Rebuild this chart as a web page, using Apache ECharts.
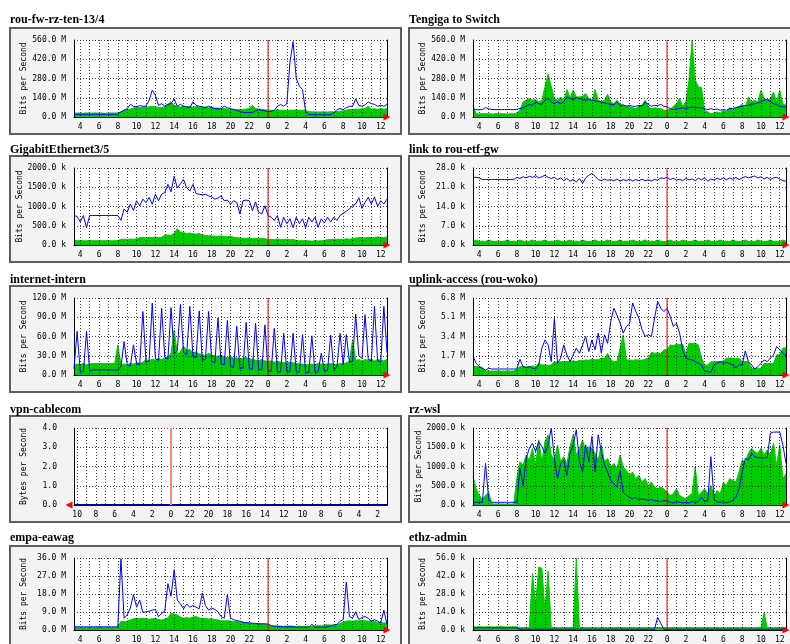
<!DOCTYPE html>
<html><head><meta charset="utf-8">
<script src="https://cdn.jsdelivr.net/npm/echarts@6/dist/echarts.min.js"></script>
<style>html,body{margin:0;padding:0;background:#fff}#c{width:790px;height:644px}</style>
</head><body><div id="c"></div><script>
// ---- sampling: 20-minute samples, 101 per graph ----
const dayStart = [3, 20];      // first sample 03:20 (day 1)
const vpnStart = [1, 0];       // vpn graph first sample 01:00 (day 1), drawn reversed
const stepMinutes = 20;
const sampleCount = 101;

// ---- series values (green = in, blue = out) ----
const fwIn = [30,28,29,27,30,28,29,30,28,29,27,28,30,29,30,
 37,49,54,58,66,70,68,72,70,74,78,73,70,68,75,
 92,110,85,75,72,80,73,78,70,76,72,68,74,66,70,
 64,66,60,62,58,55,54,52,56,54,58,62,85,60,58,
 55,52,49,50,48,52,49,50,47,50,49,52,48,50,47,
 40,37,38,36,37,39,36,38,37,40,42,45,50,55,54,
 58,56,60,62,78,58,60,55,62,57,60];
const fwOut = [20,20,19,19,19,19,19,19,19,19,19,19,19,19,20,
 37,49,61,92,78,73,83,78,78,122,195,158,85,97,78,
 92,97,131,78,92,78,73,68,110,85,78,73,68,78,68,
 61,58,61,78,68,61,54,49,39,34,32,32,34,44,54,
 49,44,39,41,49,78,92,78,97,400,548,280,225,200,40,
 19,17,17,17,17,17,17,17,29,54,61,54,68,78,78,
 131,85,78,88,110,97,92,78,85,78,92];
const tgIn = [85,24,22,25,23,24,22,24,25,23,24,22,24,23,30,
 49,110,122,134,122,127,110,122,219,312,224,134,122,146,122,
 200,141,195,146,146,151,170,134,117,200,122,110,122,166,110,
 97,122,92,85,78,73,68,61,78,85,122,73,61,68,61,
 61,49,49,54,78,97,134,78,110,268,560,268,219,214,49,
 37,24,29,37,29,49,37,68,54,68,78,92,68,146,110,
 122,110,195,134,122,134,182,110,195,97,85];
const tgOut = [54,54,52,54,68,60,54,54,54,54,54,54,54,54,56,
 61,68,78,92,85,110,97,92,122,134,110,97,110,97,110,
 146,134,127,141,134,127,122,127,122,117,112,110,102,97,92,
 88,110,83,88,78,85,78,78,85,78,110,92,78,85,83,
 92,78,73,61,54,61,61,68,61,68,73,68,68,68,61,
 54,61,54,58,49,54,49,61,63,68,73,78,83,85,92,
 97,102,110,122,127,110,97,92,78,73,73];
const geIn = [110,115,108,112,110,115,110,112,108,110,113,110,112,110,115,
 145,150,140,155,148,160,190,196,185,200,196,210,190,200,255,
 260,250,300,425,340,320,298,310,290,280,300,260,250,240,235,
 230,225,235,220,215,230,200,190,180,175,170,185,165,170,160,
 170,160,145,150,140,155,145,140,150,135,145,120,110,115,105,
 110,100,110,105,112,110,145,140,150,145,150,140,160,150,165,
 180,190,196,185,200,190,196,210,200,190,205];
const geOut = [766,740,600,766,451,766,766,766,766,766,766,766,766,766,766,
 640,936,851,1064,900,1149,1020,1191,1100,1234,1060,1319,1150,1319,1362,
 1574,1380,1787,1480,1591,1700,1489,1404,1574,1336,1319,1302,1319,1276,1251,
 1191,1217,1276,1149,1166,1064,1149,1106,808,1149,1166,1149,894,1120,851,
 808,1020,766,723,638,766,460,723,553,681,450,723,553,681,450,
 723,596,723,460,681,570,723,596,723,638,766,825,877,936,1021,
 1064,1230,950,1106,1240,1064,1250,1000,1149,1064,1191];
const ltIn = [1.4,1.8,1.3,1.4,1.3,1.8,1.4,1.3,1.4,1.3,1.4,1.8,1.3,1.4,1.3,
 1.8,1.4,1.3,1.4,1.8,1.3,1.4,1.4,1.8,1.3,1.4,1.3,1.8,1.4,1.3,
 1.4,1.8,1.3,1.4,1.3,1.8,1.4,1.3,1.4,1.8,1.3,1.4,1.3,1.8,1.4,
 1.3,1.4,1.8,1.3,1.4,1.3,1.8,1.4,1.3,1.4,1.8,1.3,1.4,1.3,1.8,
 1.4,1.3,1.4,1.8,1.3,1.4,1.3,1.8,1.4,1.3,1.4,1.8,1.3,1.4,1.3,
 1.8,1.4,1.3,1.4,1.8,1.3,1.4,1.3,1.8,1.4,1.3,1.4,1.8,1.3,1.4,
 1.3,1.8,1.4,1.3,1.4,1.8,1.3,1.4,1.3,1.8,1.4];
const ltOut = [24.6,24.6,24.4,23.8,23.8,23.8,23.8,23.8,23.8,23.8,23.8,23.8,23.8,23.8,24.6,
 24.2,24.8,24.4,25.0,24.6,25.2,24.4,24.8,25.4,24.6,24.2,24.6,23.8,24.4,23.4,
 24.2,23.2,23.8,22.9,24.2,22.4,24.4,25.4,26.0,25.0,23.8,23.4,24.0,23.5,23.8,
 23.4,24.0,23.2,23.8,23.4,23.9,23.3,23.8,23.4,23.9,23.4,23.7,23.3,23.8,23.6,
 24.4,24.2,24.6,23.8,24.3,23.6,23.9,23.4,24.2,23.7,24.0,23.4,24.3,23.7,24.4,
 23.2,24.0,23.6,24.3,23.8,24.4,23.7,24.4,23.9,24.6,23.8,24.4,24.9,24.4,24.8,
 25.1,24.4,24.8,24.0,24.6,23.8,24.4,24.6,24.0,23.4,23.2];
const iiIn = [16,17,16,18,16,17,18,18,18,18,18,18,18,18,47,
 16,17,16,18,17,19,18,20,24,22,25,23,26,24,27,
 28,34,70,33,36,45,38,40,34,36,33,32,30,34,31,
 30,29,31,28,27,29,26,27,25,26,28,24,25,23,22,
 24,22,21,22,20,21,20,19,20,20,19,18,17,17,16,
 16,17,16,18,17,17,17,18,17,16,18,17,19,21,55,
 23,24,22,24,23,25,22,24,23,22,24];
const iiOut = [10,68,5,5,68,6,8,8,8,8,8,8,8,8,8,
 13,52,16,14,47,18,16,99,20,22,112,25,23,104,28,
 25,105,33,38,110,35,32,107,29,27,100,23,25,99,21,
 19,89,17,16,85,14,12,76,10,11,82,10,9,81,9,
 8,78,6,6,73,5,5,65,5,5,65,5,4,63,4,
 4,61,4,5,34,6,7,62,9,12,65,16,63,20,22,
 95,30,26,94,24,22,107,22,20,107,35];
const ulIn = [0.74,0.74,0.7,0.65,0.35,0.35,0.35,0.35,0.35,0.35,0.35,0.35,0.35,0.35,0.5,
 0.74,0.74,0.7,0.74,0.8,0.74,1.03,0.89,0.89,0.85,0.89,1.18,1.1,1.18,1.18,
 1.2,1.18,1.25,1.18,1.3,1.25,1.33,1.3,1.4,1.33,1.35,1.48,1.45,1.92,1.33,
 1.18,1.2,2.37,3.55,1.33,1.33,1.3,1.35,1.33,1.3,1.4,1.48,2.0,1.92,1.95,
 1.92,2.22,2.22,2.66,2.6,2.72,2.7,2.72,1.83,2.8,2.8,2.8,2.66,1.5,0.89,
 0.89,1.18,1.15,1.2,1.18,1.25,1.48,1.5,1.48,1.45,1.48,1.18,1.2,1.18,0.59,
 0.59,0.6,0.59,1.03,1.0,1.03,1.03,1.77,1.8,2.37,2.4];
const ulOut = [1.7,1.03,0.74,0.59,0.44,0.59,0.53,0.53,0.53,0.53,0.53,0.53,0.53,0.53,0.53,
 1.39,0.74,0.65,0.74,0.59,0.53,0.89,2.37,3.1,2.66,1.18,5.0,1.03,1.48,2.66,
 1.77,1.18,1.77,2.37,1.92,2.66,3.4,2.07,3.1,2.22,3.7,1.92,3.55,2.8,4.73,
 5.9,5.3,4.58,3.7,4.29,4.5,6.36,5.6,5.03,4.0,3.4,3.55,3.4,5.03,6.5,
 5.9,5.6,5.9,5.17,4.29,4.58,3.7,2.22,1.48,1.39,1.33,1.18,1.03,0.89,0.35,
 0.30,0.24,0.89,1.03,1.18,1.03,1.12,1.0,0.89,0.65,0.89,0.89,2.13,1.18,0.89,
 0.53,0.74,1.03,1.33,1.18,1.48,1.77,2.51,2.22,1.92,1.7];
const vpIn = [0,0,0,0,0,0,0,0,0,0,0,0,0,0,0,0,0,0,0,0,0,0,0,0,0,0,0,0,0,0,0,0,0,0,0,0,0,0,0,0,0,0,0,0,0,0,0,0,0,0,
 0,0,0,0,0,0,0,0,0,0,0,0,0,0,0,0,0,0,0,0,0,0,0,0,0,0,0,0,0,0,0,0,0,0,0,0,0,0,0,0,0,0,0,0,0,0,0,0,0,0,0];
const vpOut = [0,0,0,0,0,0,0,0,0,0,0,0,0,0,0,0,0,0,0,0,0,0,0,0,0,0,0,0,0,0,0,0,0,0,0,0,0,0,0,0,0,0,0,0,0,0,0,0,0,0,
 0,0,0,0,0,0,0,0,0,0,0,0,0,0,0,0,0,0,0,0,0,0,0,0,0,0,0,0,0,0,0,0,0,0,0,0,0,0,0,0,0,0,0,0,0,0,0,0,0,0,0];
const wsIn = [754,421,246,158,246,333,26,26,26,26,26,26,26,26,684,
 1123,1035,1298,1166,1473,1035,1693,1123,1649,1824,1298,1166,1561,1123,1254,
 1079,1517,1824,1298,1473,1693,1386,1517,1473,1342,1166,1561,1123,1210,991,
 1079,947,1298,991,903,772,859,684,772,596,684,509,596,465,421,
 465,421,333,246,290,421,246,202,158,246,290,991,246,333,421,
 290,509,246,377,290,596,509,684,640,596,859,1166,1123,1342,1473,
 1386,1342,1473,1298,1430,1298,1605,1035,1561,684,816];
const wsOut = [70,70,70,70,1079,158,70,70,70,70,70,70,70,70,70,
 947,509,1210,1473,1605,1386,1649,1517,1342,1561,2000,1210,684,1079,1166,
 772,1342,1561,1956,1123,859,1561,1123,1780,859,1824,1386,1035,859,640,
 552,465,903,333,246,202,158,202,140,158,140,123,140,114,105,
 88,114,105,70,53,88,70,53,70,53,88,70,88,202,88,
 114,1254,158,70,70,88,53,88,114,202,421,859,1210,1166,1342,
 1254,1228,1228,1228,1228,1868,1894,1894,1894,1561,1079];
const emIn = [1.2,1.2,1.2,1.2,1.2,1.2,1.2,1.2,1.2,1.2,1.2,1.2,1.2,1.2,1.5,
 4.4,4.0,4.5,5.0,5.6,5.8,5.6,5.9,5.6,5.4,5.6,5.8,5.2,5.0,5.4,
 6.0,8.3,8.0,7.5,6.5,5.9,6.2,5.9,6.5,6.7,6.0,5.6,5.8,5.5,5.6,
 5.2,5.0,4.7,4.5,4.7,4.4,4.4,4.2,4.0,3.9,3.6,3.4,3.1,3.0,3.1,
 3.0,2.8,2.6,2.0,2.0,1.9,2.0,1.8,1.9,2.0,1.9,1.8,1.9,1.8,1.9,
 1.8,1.9,2.0,2.2,2.0,2.5,2.6,2.5,2.4,2.6,3.2,4.0,4.4,4.6,4.4,
 4.7,4.5,4.8,4.6,4.4,4.7,4.5,3.6,3.8,3.5,3.6];
const emOut = [1.6,1.6,1.6,1.6,1.6,1.6,1.6,1.6,1.6,1.6,1.6,1.6,1.6,1.6,1.6,
 35.7,5.9,7.5,11.0,17.7,11.4,15.0,8.8,9.1,9.4,9.9,10.3,6.7,8.3,9.4,
 23.2,16.9,30.2,15.0,13.0,10.6,13.0,11.4,12.2,11.4,10.6,18.5,12.2,9.9,11.0,
 10.3,9.1,6.7,5.9,17.7,5.9,5.2,4.7,4.4,3.9,3.6,3.6,3.4,3.3,3.1,
 3.1,3.1,3.0,2.2,1.9,1.9,1.6,1.6,1.6,1.6,1.6,1.4,1.4,1.4,1.4,
 1.4,2.8,1.4,1.4,1.4,1.4,1.6,2.0,2.5,2.8,4.4,5.2,24.0,6.7,5.9,
 9.1,5.2,6.3,6.7,5.9,4.4,5.2,4.4,3.6,9.9,2.8];
const ezIn = [2.4,2.4,2.6,2.4,2.4,2.6,2.4,2.4,2.4,2.6,2.4,2.4,2.4,2.6,2.4,
 1.8,1.9,1.8,1.8,44,20,49,48,15,46,1.8,1.9,1.8,1.8,2.0,
 1.8,1.9,1.8,56,1.8,1.9,1.8,2.0,1.8,1.9,1.8,1.8,2.0,1.8,1.9,
 1.8,2.0,1.8,1.9,1.8,1.8,2.0,1.8,1.9,1.8,2.0,1.8,1.9,1.8,1.8,
 2.0,1.8,1.9,1.8,2.0,1.8,1.9,1.8,1.8,2.0,1.8,1.9,1.8,2.0,1.8,
 1.9,1.8,1.8,2.0,1.8,1.9,1.8,2.0,1.8,1.9,1.8,1.8,2.0,1.8,1.9,
 1.8,2.0,1.8,13.6,1.8,1.9,1.8,2.0,1.8,1.9,1.8];
const ezOut = [1.7,1.7,1.7,1.7,1.7,1.7,1.7,1.7,1.7,1.7,1.7,1.7,1.7,1.7,1.7,
 0.6,0.6,0.6,0.6,0.6,0.6,0.6,0.6,0.6,0.6,0.6,0.6,0.6,0.6,0.6,
 0.6,0.6,0.6,0.6,0.6,0.6,0.6,0.6,0.6,0.6,0.6,0.6,0.6,0.6,0.6,
 0.6,0.6,0.6,0.6,0.6,0.6,0.6,0.6,0.6,0.6,0.6,0.6,0.6,0.6,9.9,
 5.0,0.6,0.6,0.6,0.6,0.6,0.6,0.6,0.6,0.6,0.6,0.6,0.6,0.6,0.6,
 0.6,0.6,0.6,0.6,0.6,0.6,0.6,0.6,0.6,0.6,0.6,0.6,0.6,0.6,0.6,
 0.6,0.6,0.6,0.6,0.6,0.6,0.6,0.6,0.6,0.6,0.6];

const titles = ['rou-fw-rz-ten-13/4','Tengiga to Switch','GigabitEthernet3/5','link to rou-etf-gw',
  'internet-intern','uplink-access (rou-woko)','vpn-cablecom','rz-wsl','empa-eawag','ethz-admin'];
const yMax  = [560, 560, 2000, 28, 120, 6.8, 4, 2000, 36, 56];
const yUnit = ['M','M','k','k','M','M','','k','M','k'];
const yNames = ['Bits per Second','Bits per Second','Bits per Second','Bits per Second','Bits per Second',
  'Bits per Second','Bytes per Second','Bits per Second','Bits per Second','Bits per Second'];
const inSeries  = [fwIn, tgIn, geIn, ltIn, iiIn, ulIn, vpIn, wsIn, emIn, ezIn];
const outSeries = [fwOut, tgOut, geOut, ltOut, iiOut, ulOut, vpOut, wsOut, emOut, ezOut];

// ---- categories (time stamps) ----
function makeCats(start) {
  const out = [];
  for (let i = 0; i < sampleCount; i++) {
    const t = start[0] * 60 + start[1] + i * stepMinutes;
    const day = Math.floor(t / 1440) + 1;
    const m = t % 1440;
    const hh = String(Math.floor(m / 60)).padStart(2, '0');
    const mm = String(m % 60).padStart(2, '0');
    out.push(day + '|' + hh + ':' + mm);
  }
  return out;
}
const dayCats = makeCats(dayStart);
const vpnCats = makeCats(vpnStart);

// ---- layout ----
const colBox = [10, 409], colBoxW = [391, 382];
const colPlot = [74, 473], colPlotW = [313, 313];
const rowPlot = [40, 168, 298, 428, 558];
const rowTitle = [21, 151, 281, 411, 539];
const plotH = 77;
const mono = 'DejaVu Sans Mono';

const isHour = (i, v) => v.slice(-3) === ':00';
const isEvenHour = (i, v) => v.slice(-3) === ':00' && parseInt(v.split('|')[1], 10) % 2 === 0;
const hourLabel = v => String(parseInt(v.split('|')[1], 10));

const option = { animation: false, backgroundColor: '#fff',
  title: [], grid: [], xAxis: [], yAxis: [], series: [], graphic: [] };

titles.forEach((t, k) => {
  const r = Math.floor(k / 2), c = k % 2;
  const vpn = k === 6;
  const cats = vpn ? vpnCats : dayCats;
  const unit = yUnit[k];
  const mid = cats.indexOf('2|00:00');
  option.graphic.push({ type: 'rect', z: -10, silent: true,
    shape: { x: colBox[c], y: rowPlot[r] - 12, width: colBoxW[c], height: 106 },
    style: { fill: '#f3f3f3', stroke: '#5e5e5e', lineWidth: 2 } });
  option.title.push({ text: t, left: colBox[c], top: rowTitle[r] - 7, padding: 0,
    textStyle: { fontFamily: 'Liberation Serif', fontWeight: 'bold', fontSize: 12, color: '#000' } });
  option.grid.push({ left: colPlot[c], top: rowPlot[r], width: colPlotW[c], height: plotH,
    show: true, backgroundColor: '#fff', borderWidth: 0 });
  option.xAxis.push({ gridIndex: k, type: 'category', data: cats, boundaryGap: false, inverse: vpn, z: 3,
    axisLine: { lineStyle: { color: '#000', width: 1 } }, axisTick: { show: false },
    axisLabel: { interval: isEvenHour, formatter: hourLabel, fontFamily: mono, fontSize: 8, color: '#000', margin: 6 },
    splitLine: { show: true, interval: isHour, lineStyle: { color: '#000', width: 1, type: [1, 2], opacity: 0.75 } } });
  option.yAxis.push({ gridIndex: k, type: 'value', min: 0, max: yMax[k], interval: yMax[k] / 4, z: 3,
    axisLine: { show: true, lineStyle: { color: '#000' } }, axisTick: { show: false },
    axisLabel: { formatter: v => v.toFixed(1) + (unit ? ' ' + unit : ''), fontFamily: mono, fontSize: 8,
      color: '#000', margin: vpn ? 17 : 8 },
    splitLine: { show: true, lineStyle: { color: '#000', width: 1, type: [1, 2], opacity: 0.75 } },
    name: yNames[k], nameLocation: 'middle', nameGap: 46,
    nameTextStyle: { fontFamily: mono, fontSize: 8, color: '#000' } });
  option.yAxis.push({ gridIndex: k, type: 'value', min: 0, max: yMax[k], position: 'right', z: 3,
    axisLine: { show: true, onZero: false, lineStyle: { color: '#000' } },
    axisTick: { show: false }, axisLabel: { show: false }, splitLine: { show: false } });
  option.series.push({ type: 'line', xAxisIndex: k, yAxisIndex: 2 * k, data: inSeries[k],
    symbol: 'none', silent: true, z: 2, lineStyle: { width: 1, color: '#00cc00' },
    areaStyle: { color: '#00cc00', opacity: 1 } });
  option.series.push({ type: 'line', xAxisIndex: k, yAxisIndex: 2 * k, data: outSeries[k],
    symbol: 'none', silent: true, z: 4,
    lineStyle: { width: vpn ? 2 : 1, color: vpn ? '#0000a0' : '#0000ff' },
    markPoint: { silent: true, symbol: 'triangle', symbolSize: 7, symbolRotate: vpn ? 90 : -90,
      symbolOffset: vpn ? [-5, 0] : [0, 0], label: { show: false }, itemStyle: { color: '#ff0000' },
      data: [{ coord: [sampleCount - 1, 0] }] } });
  // midnight marker: vertical red line from 0 to the top of the scale
  option.series.push({ type: 'line', xAxisIndex: k, yAxisIndex: 2 * k, symbol: 'none', silent: true, z: 6,
    data: [[mid, 0], [mid, yMax[k]]],
    lineStyle: { width: vpn ? 2 : 1, color: vpn ? '#ff8080' : '#ff0000' } });
});

const chart = echarts.init(document.getElementById('c'), null, { renderer: 'canvas' });
chart.setOption(option);
</script></body></html>
